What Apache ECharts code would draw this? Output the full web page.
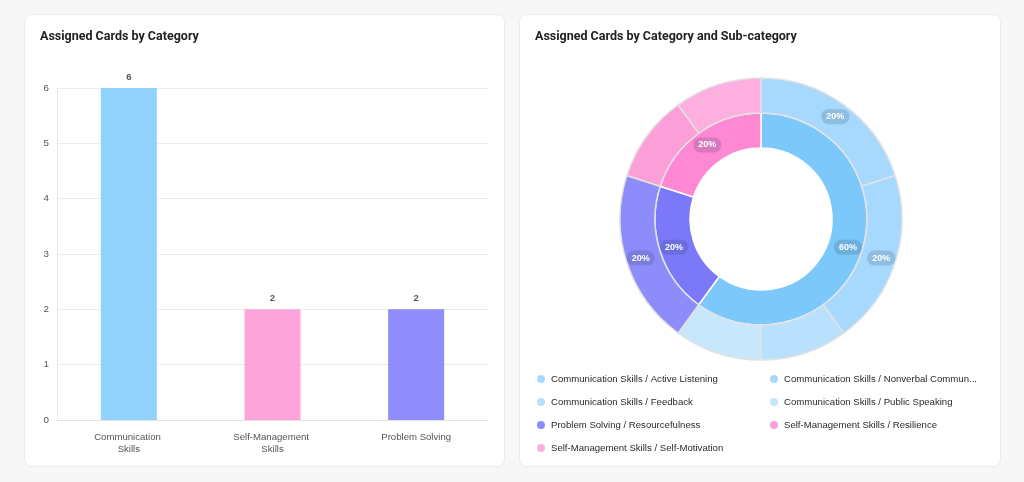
<!DOCTYPE html>
<html>
<head>
<meta charset="utf-8">
<script src="https://cdn.jsdelivr.net/npm/echarts@6/dist/echarts.min.js"></script>
<style>
  html, body { margin: 0; padding: 0; background: #f7f7f7; width: 1024px; height: 482px; overflow: hidden; }
  .card { position: absolute; top: 14px; height: 453px; background: #fff; border: 1px solid #ececec; border-radius: 8px; box-sizing: border-box; }
  #leftCard { left: 24px; width: 481px; }
  #rightCard { left: 519px; width: 482px; }
  .chart { position: absolute; left: 0; top: 0; width: 100%; height: 100%; }
</style>
</head>
<body>
<div id="leftCard" class="card"><div id="barChart" class="chart"></div></div>
<div id="rightCard" class="card"><div id="pieChart" class="chart"></div></div>
<script>
  // bar chart data
  const categories = ['Communication Skills', 'Self-Management Skills', 'Problem Solving'];
  const cardCounts = [6, 2, 2];
  const barColors = ['#91d2fc', '#fda4da', '#8f8dfb'];

  // donut data
  const innerNames = ['Communication Skills', 'Problem Solving', 'Self-Management Skills'];
  const innerValues = [6, 2, 2];
  const innerColors = ['#7dc8fb', '#7b78fa', '#fe88d4'];

  const subNames = [
    'Communication Skills / Active Listening',
    'Communication Skills / Nonverbal Communication',
    'Communication Skills / Feedback',
    'Communication Skills / Public Speaking',
    'Problem Solving / Resourcefulness',
    'Self-Management Skills / Resilience',
    'Self-Management Skills / Self-Motivation'
  ];
  const subValues = [2, 2, 1, 1, 2, 1, 1];
  const subColors = ['#a6d9fd', '#a6d9fd', '#b9e0fc', '#c6e7fc', '#8e8cfb', '#fb9fd9', '#fdb0e0'];

  const titleStyle = { fontFamily: 'Roboto', fontSize: 12.5, fontWeight: 'bold', color: '#222' };
  const txt = 'Liberation Sans';

  const barChart = echarts.init(document.getElementById('barChart'));
  barChart.setOption({
    animation: false,
    title: { text: 'Assigned Cards by Category', left: 10, top: 10, textStyle: titleStyle },
    grid: { left: 32, right: 16, top: 73, bottom: 46 },
    xAxis: {
      type: 'category',
      data: categories,
      axisTick: { show: false },
      axisLine: { lineStyle: { color: '#e3e3e3' } },
      axisLabel: { color: '#555', fontFamily: txt, fontSize: 9.6, lineHeight: 12, margin: 11, width: 90, overflow: 'break' }
    },
    yAxis: {
      type: 'value',
      min: 0, max: 6, interval: 1,
      axisLine: { show: true, lineStyle: { color: '#e8e8e8' } },
      axisLabel: { color: '#555', fontFamily: txt, fontSize: 9.8, margin: 8 },
      splitLine: { lineStyle: { color: '#ececec' } }
    },
    series: [{
      type: 'bar',
      barWidth: 56,
      data: cardCounts.map((v, i) => ({ value: v, itemStyle: { color: barColors[i] } })),
      label: { show: true, position: 'top', distance: 6, color: '#555', fontFamily: txt, fontSize: 9.6, fontWeight: 'bold' }
    }]
  });

  const total = subValues.reduce((a, b) => a + b, 0);
  const pctLabel = {
    show: true, position: 'inside', formatter: '{d}%',
    color: '#fff', fontFamily: txt, fontSize: 9, fontWeight: 'bold',
    backgroundColor: 'rgba(40,60,90,0.18)', borderRadius: 7, padding: [3, 5]
  };

  const pieChart = echarts.init(document.getElementById('pieChart'));
  pieChart.setOption({
    animation: false,
    title: { text: 'Assigned Cards by Category and Sub-category', left: 10, top: 10, textStyle: titleStyle },
    legend: {
      data: subNames,
      left: 12, top: 353, width: 470,
      orient: 'horizontal',
      icon: 'circle', itemWidth: 8, itemHeight: 8, itemGap: 11,
      itemStyle: { borderWidth: 0 },
      textStyle: { color: '#2a2a2a', fontFamily: txt, fontSize: 9.6, lineHeight: 12, width: 195, overflow: 'truncate', padding: [0, 13, 0, 1] }
    },
    series: [{
      name: 'Category',
      type: 'pie',
      center: [241, 204],
      radius: [71, 106],
      startAngle: 90,
      clockwise: true,
      label: pctLabel,
      labelLine: { show: false },
      itemStyle: { borderColor: '#fff', borderWidth: 1.5 },
      data: innerNames.map((n, i) => ({ name: n, value: innerValues[i], itemStyle: { color: innerColors[i] } }))
    }, {
      name: 'Sub-category',
      type: 'pie',
      center: [241, 204],
      radius: [106, 141],
      startAngle: 90,
      clockwise: true,
      labelLine: { show: false },
      itemStyle: { borderColor: '#e2e2e2', borderWidth: 1.5 },
      data: subNames.map((n, i) => ({
        name: n, value: subValues[i],
        itemStyle: { color: subColors[i] },
        label: Object.assign({}, pctLabel, { show: subValues[i] / total >= 0.15 })
      }))
    }]
  });
</script>
</body>
</html>
